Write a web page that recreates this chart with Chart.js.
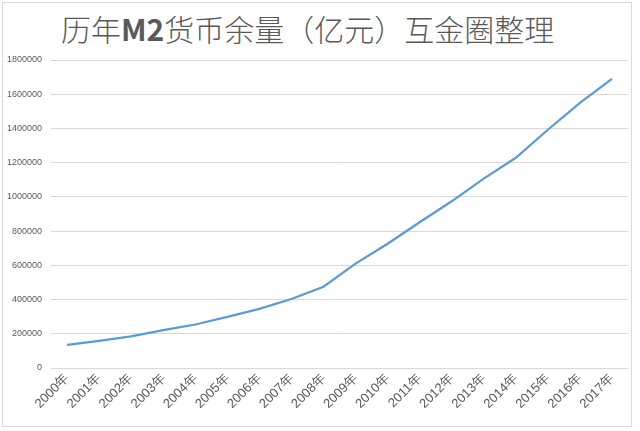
<!DOCTYPE html>
<html><head><meta charset="utf-8">
<script src="https://cdn.jsdelivr.net/npm/chart.js@4/dist/chart.umd.min.js"></script>
<style>
html,body{margin:0;padding:0;background:#fff;}
#wrap{position:relative;width:640px;height:431px;}
#frame{position:absolute;left:2px;top:2px;width:630px;height:425px;border:1px solid #d9d9d9;box-sizing:border-box;}
#title{position:absolute;left:61px;top:9px;font-family:"Noto Sans CJK SC";font-weight:300;font-size:30px;line-height:38px;color:#595959;white-space:nowrap;}
#title b{font-weight:700;}
canvas{position:absolute;left:0;top:0;}
</style></head>
<body><div id="wrap"><div id="frame"></div><div id="title">历年<b>M2</b>货币余量（亿元）互金圈整理</div><canvas id="c" width="640" height="431"></canvas></div>
<script>
const years = ["2000年","2001年","2002年","2003年","2004年","2005年","2006年","2007年","2008年","2009年","2010年","2011年","2012年","2013年","2014年","2015年","2016年","2017年"];
const m2 = [134610,158302,185007,221223,254107,298756,345578,403442,475167,610225,725852,851591,974149,1106525,1228375,1392278,1550067,1690235];
const yTicks = [0,200000,400000,600000,800000,1000000,1200000,1400000,1600000,1800000];

new Chart(document.getElementById('c'), {
  type: 'line',
  data: { labels: years, datasets: [{ data: m2, borderColor: '#5B9BD5', borderWidth: 2.25, pointRadius: 0, tension: 0, fill: false }] },
  options: {
    responsive: false, animation: false, devicePixelRatio: 1,
    layout: { padding: { top: 60, right: 12, bottom: 4, left: 0 } },
    plugins: { legend: { display: false }, title: { display: false }, tooltip: { enabled: false } },
    scales: {
      x: {
        offset: true,
        grid: { display: false, drawTicks: false },
        border: { display: false },
        ticks: { color: '#595959', font: { family: 'Liberation Sans', size: 13 }, maxRotation: 45, minRotation: 45, padding: 3, autoSkip: false },
        afterFit: s => { s.height = 59; }
      },
      y: {
        min: 0, max: 1800000,
        afterBuildTicks: s => { s.ticks = yTicks.map(v => ({ value: v })); },
        grid: { color: '#d9d9d9', lineWidth: 1, drawTicks: false },
        border: { display: false },
        ticks: { color: '#595959', font: { family: 'Liberation Sans', size: 9 }, padding: 9, callback: v => String(v) },
        afterFit: s => { s.width = 51; }
      }
    }
  }
});
</script></body></html>
